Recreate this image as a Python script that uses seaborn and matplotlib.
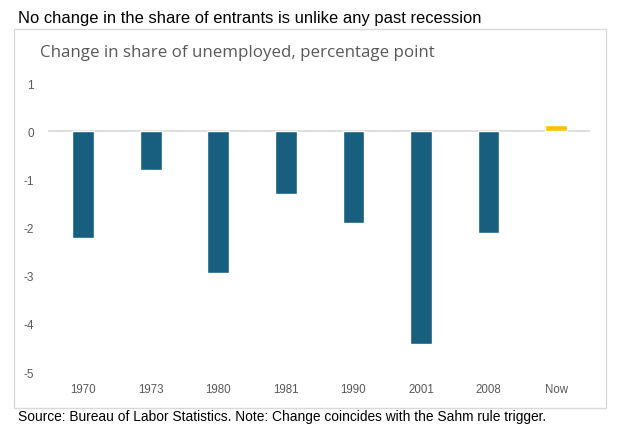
import numpy as np
import pandas as pd
import matplotlib
matplotlib.use("Agg")
import matplotlib.pyplot as plt
import seaborn as sns
from matplotlib.patches import Rectangle

# donnees
periods = ["1970", "1973", "1980", "1981", "1990", "2001", "2008", "Now"]
change = [-2.22, -0.81, -2.95, -1.31, -1.91, -4.42, -2.12, 0.13]
kind = ["past", "past", "past", "past", "past", "past", "past", "now"]
yticks = [1, 0, -1, -2, -3, -4, -5]

BLUE = "#175E7F"
GOLD = "#FFC000"
GREY = "#595959"

sns.set_theme(style="white")
plt.rcParams["font.family"] = ["Liberation Sans", "DejaVu Sans"]

df = pd.DataFrame({"period": periods, "change": change, "kind": kind})

fig = plt.figure(figsize=(6.17, 4.27), dpi=100)
ax = fig.add_axes([48 / 617, 1 - 373 / 427, 542 / 617, 289 / 427])

sns.barplot(data=df, x="period", y="change", hue="kind", dodge=False,
            palette={"past": BLUE, "now": GOLD}, width=0.32, legend=False,
            saturation=1, ax=ax)

ax.axhline(0, color="#D9D9D9", lw=1.2, zorder=0)
ax.set_xlim(-0.52, 7.5)
ax.set_ylim(-5, 1)
ax.set_yticks(yticks)
ax.set_yticklabels([str(t) for t in yticks])
ax.set_xlabel(""); ax.set_ylabel("")
ax.tick_params(axis="both", length=0, labelcolor=GREY)
ax.tick_params(axis="x", pad=8, labelsize=8.3)
ax.tick_params(axis="y", pad=10, labelsize=8.5)
for s in ax.spines.values():
    s.set_visible(False)
ax.patch.set_alpha(0)

# cadre gris autour du graphe
fig.patches.append(Rectangle((14 / 617, 1 - 409 / 427), 592 / 617, 379 / 427,
                             transform=fig.transFigure, fill=False,
                             edgecolor="#D9D9D9", lw=1, zorder=0))

fig.text(18 / 617, 1 - 19 / 427,
         "No change in the share of entrants is unlike any past recession",
         fontsize=11.9, color="black", va="center", ha="left")
fig.text(40 / 617, 1 - 53 / 427,
         "Change in share of unemployed, percentage point",
         fontsize=12.2, color=GREY, va="center", ha="left",
         family=["Open Sans", "DejaVu Sans"])
fig.text(18 / 617, 1 - 417 / 427,
         "Source: Bureau of Labor Statistics. Note: Change coincides with the Sahm rule trigger.",
         fontsize=9.9, color="black", va="center", ha="left")

fig.savefig("out.png", dpi=100)
